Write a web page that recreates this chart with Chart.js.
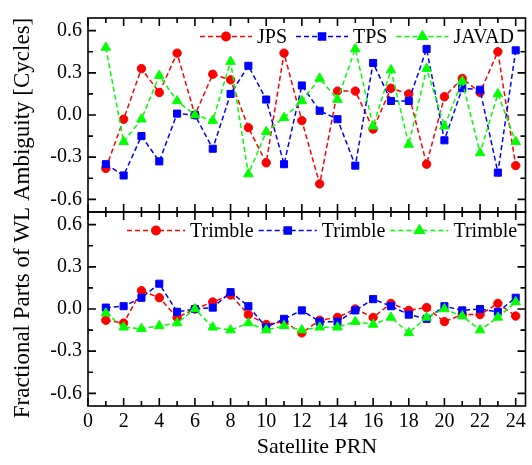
<!DOCTYPE html>
<html>
<head>
<meta charset="utf-8">
<script src="https://cdn.jsdelivr.net/npm/chart.js@4"></script>
<style>
  body { margin: 0; background: #fff; }
  canvas { display: block; }
</style>
</head>
<body>
<canvas id="wl-chart" width="532" height="465"></canvas>
<script>
'use strict';

let prn = [1, 2, 3, 4, 5, 6, 7, 8, 9, 10, 11, 12, 13, 14, 15, 16, 17, 18, 19, 20, 21, 22, 23, 24];

// upper panel
let jps = [-0.38, -0.03, 0.33, 0.16, 0.44, 0.0, 0.29, 0.25, -0.09, -0.34, 0.44, -0.04,
  -0.49, 0.17, 0.17, -0.10, 0.19, 0.15, -0.35, 0.13, 0.26, 0.16, 0.45, -0.36];
let tps = [-0.35, -0.43, -0.15, -0.33, 0.01, 0.0, -0.24, 0.15, 0.35, 0.11, -0.35, 0.21,
  0.03, -0.03, -0.36, 0.37, 0.10, 0.10, 0.47, -0.18, 0.19, 0.18, -0.41, 0.46];
let javad = [0.48, -0.19, -0.03, 0.28, 0.10, 0.0, -0.04, 0.38, -0.42, -0.12, -0.02, 0.10,
  0.26, 0.11, 0.47, -0.08, 0.32, -0.21, 0.33, -0.08, 0.24, -0.27, 0.15, -0.19];

// lower panel (all Trimble)
let trimbleRed = [-0.08, -0.10, 0.13, 0.08, -0.06, 0.0, 0.05, 0.10, -0.04, -0.11, -0.09, -0.17,
  -0.08, -0.06, 0.0, -0.06, 0.04, -0.01, 0.01, -0.09, -0.04, -0.04, 0.04, -0.05];
let trimbleBlue = [0.01, 0.02, 0.08, 0.18, -0.02, 0.0, 0.01, 0.12, 0.02, -0.13, -0.07, -0.01,
  -0.09, -0.09, -0.01, 0.07, 0.02, -0.04, -0.07, 0.02, -0.01, 0.0, -0.02, 0.08];
let trimbleGreen = [-0.03, -0.13, -0.14, -0.12, -0.10, 0.0, -0.13, -0.15, -0.10, -0.15, -0.12, -0.15,
  -0.13, -0.13, -0.09, -0.11, -0.06, -0.17, -0.06, 0.0, -0.05, -0.15, -0.06, 0.05];

let topLabels = ['JPS', 'TPS', 'JAVAD'];
let bottomLabels = ['Trimble', 'Trimble', 'Trimble'];

let xTicks = [0, 2, 4, 6, 8, 10, 12, 14, 16, 18, 20, 22, 24];
let yTicks = [-0.6, -0.3, 0.0, 0.3, 0.6];

let fontFamily = '"Liberation Serif", "Times New Roman", serif';

function makeSet(label, values, color, shape, radius, axis, order) {
  let pts = [];
  for (let i = 0; i < prn.length; i++) {
    pts.push({ x: prn[i], y: values[i] });
  }
  return {
    label: label,
    data: pts,
    yAxisID: axis,
    order: order,
    borderColor: color,
    backgroundColor: color,
    borderWidth: 1.5,
    borderDash: [5, 3],
    pointStyle: shape,
    pointRadius: radius,
    pointBorderWidth: 1,
    pointBackgroundColor: color,
    pointBorderColor: color,
    tension: 0
  };
}

function yAxis(weight) {
  return {
    type: 'linear',
    position: 'left',
    stack: 'panels',
    stackWeight: 1,
    weight: weight,
    min: -0.69,
    max: 0.69,
    grid: { display: false, drawTicks: false },
    border: { display: false },
    ticks: {
      color: 'black',
      padding: 6,
      font: { family: fontFamily, size: 20 },
      callback: function (v) { return Number(v).toFixed(1); }
    },
    afterBuildTicks: function (scale) {
      scale.ticks = yTicks.map(function (v) { return { value: v }; });
    },
    afterFit: function (scale) { scale.width = 88; }
  };
}

// inward ticks + panel frames, drawn like the original plot
let frameTicks = {
  id: 'frameTicks',
  afterDatasetsDraw(chart) {
    let ctx = chart.ctx;
    let xs = chart.scales.x;
    let left = chart.chartArea.left;
    let right = chart.chartArea.right;
    ctx.save();
    ctx.strokeStyle = '#000';
    ctx.lineWidth = 1.6;
    ctx.setLineDash([]);
    ['yTop', 'yBot'].forEach(function (id) {
      let ys = chart.scales[id];
      ctx.strokeRect(left, ys.top, right - left, ys.bottom - ys.top);
      ctx.beginPath();
      for (let v = 0; v <= 24; v++) {
        let px = xs.getPixelForValue(v);
        let len = v % 2 === 0 ? 8 : 5;
        ctx.moveTo(px, ys.top);
        ctx.lineTo(px, ys.top + len);
        ctx.moveTo(px, ys.bottom);
        ctx.lineTo(px, ys.bottom - len);
      }
      for (let k = -4; k <= 4; k++) {
        let py = ys.getPixelForValue(k * 0.15);
        let len = k % 2 === 0 ? 8 : 5;
        ctx.moveTo(left, py);
        ctx.lineTo(left + len, py);
        ctx.moveTo(right, py);
        ctx.lineTo(right - len, py);
      }
      ctx.stroke();
    });

    // x tick labels under the lower panel
    ctx.fillStyle = '#000';
    ctx.font = '20px ' + fontFamily;
    ctx.textAlign = 'center';
    ctx.textBaseline = 'middle';
    xTicks.forEach(function (v) {
      ctx.fillText(String(v), xs.getPixelForValue(v), xs.top + 16);
    });
    ctx.restore();
  }
};

// legends inside each panel and the two axis titles
let legendTitles = {
  id: 'legendTitles',
  afterDraw(chart) {
    let ctx = chart.ctx;
    let panels = [
      { axis: 'yTop', x: 200, sample: 52, gap: 5, itemGap: 9 },
      { axis: 'yBot', x: 127, sample: 58, gap: 5, itemGap: 5 }
    ];
    ctx.save();
    ctx.font = '20px ' + fontFamily;
    ctx.textBaseline = 'middle';
    panels.forEach(function (p) {
      let ys = chart.scales[p.axis];
      let y = ys.top + 18.5;
      let x = p.x;
      chart.data.datasets.forEach(function (ds) {
        if (ds.yAxisID !== p.axis) return;
        ctx.strokeStyle = ds.borderColor;
        ctx.fillStyle = ds.backgroundColor;
        ctx.lineWidth = 1.5;
        ctx.setLineDash([5, 3]);
        ctx.beginPath();
        ctx.moveTo(x, y);
        ctx.lineTo(x + p.sample, y);
        ctx.stroke();
        ctx.setLineDash([]);
        Chart.helpers.drawPoint(ctx, {
          pointStyle: ds.pointStyle, radius: ds.pointRadius, rotation: 0, borderWidth: 1
        }, x + p.sample / 2, y);
        ctx.fillStyle = '#000';
        ctx.textAlign = 'left';
        ctx.fillText(ds.label, x + p.sample + p.gap, y + 1);
        x += p.sample + p.gap + ctx.measureText(ds.label).width + p.itemGap;
      });
    });

    ctx.fillStyle = '#000';
    ctx.textAlign = 'center';
    ctx.font = '22px ' + fontFamily;
    ctx.fillText('Satellite PRN', 317, 447);

    ctx.translate(23, 218);
    ctx.rotate(-Math.PI / 2);
    ctx.font = '23px ' + fontFamily;
    ctx.fillText('Fractional Parts of WL Ambiguity [Cycles]', 0, 0);
    ctx.restore();
  }
};

let chartObj = {
  type: 'line',
  data: {
    datasets: [
      makeSet(topLabels[0], jps, '#ff0000', 'circle', 4.2, 'yTop', 3),
      makeSet(topLabels[1], tps, '#0000ff', 'rect', 5, 'yTop', 2),
      makeSet(topLabels[2], javad, '#00ff00', 'triangle', 5.5, 'yTop', 1),
      makeSet(bottomLabels[0], trimbleRed, '#ff0000', 'circle', 4.2, 'yBot', 3),
      makeSet(bottomLabels[1], trimbleBlue, '#0000ff', 'rect', 5, 'yBot', 2),
      makeSet(bottomLabels[2], trimbleGreen, '#00ff00', 'triangle', 5.5, 'yBot', 1)
    ]
  },
  options: {
    responsive: false,
    animation: false,
    devicePixelRatio: 1,
    layout: { padding: { top: 13, right: 1, bottom: 0, left: 0 } },
    plugins: {
      legend: { display: false },
      tooltip: { enabled: false }
    },
    scales: {
      x: {
        type: 'linear',
        min: 0,
        max: 24.55,
        grid: { display: false, drawTicks: false },
        border: { display: false },
        ticks: { display: false },
        afterFit: function (scale) { scale.height = 59; }
      },
      yTop: yAxis(2),
      yBot: yAxis(1)
    }
  },
  plugins: [frameTicks, legendTitles]
};

new Chart(document.getElementById('wl-chart'), chartObj); //eslint-disable-line
</script>
</body>
</html>
